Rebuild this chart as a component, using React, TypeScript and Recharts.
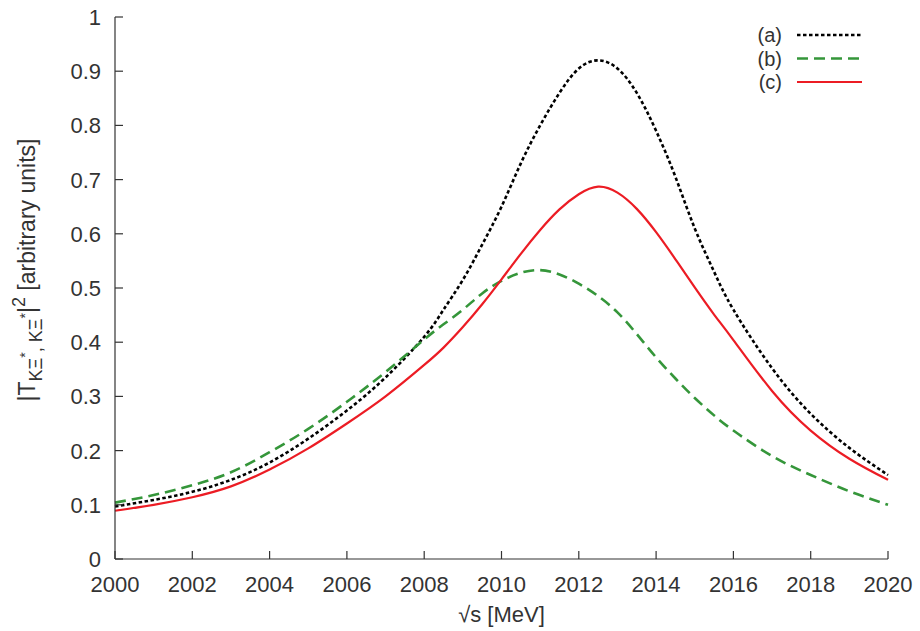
import React from 'react';
import { LineChart, Line, XAxis, YAxis, Legend } from 'recharts';

// sqrt(s) in MeV
const sqrtS = [
  2000, 2001, 2002, 2003, 2004, 2005, 2006, 2007,
  2008, 2008.5, 2009, 2009.5, 2010, 2010.5, 2011, 2011.5, 2012, 2012.5,
  2013, 2013.5, 2014, 2014.5, 2015, 2015.5, 2016,
  2017, 2018, 2019, 2020,
];
const curveA = [
  0.097, 0.109, 0.124, 0.146, 0.178, 0.222, 0.274, 0.335,
  0.41, 0.46, 0.515, 0.58, 0.65, 0.73, 0.8, 0.86, 0.905, 0.92,
  0.905, 0.86, 0.79, 0.705, 0.61, 0.53, 0.46,
  0.352, 0.268, 0.205, 0.155,
];
const curveB = [
  0.104, 0.118, 0.136, 0.16, 0.197, 0.24, 0.29, 0.345,
  0.405, 0.433, 0.46, 0.49, 0.513, 0.528, 0.533, 0.525, 0.508, 0.485,
  0.455, 0.415, 0.372, 0.333, 0.297, 0.265, 0.237,
  0.19, 0.155, 0.125, 0.1,
];
const curveC = [
  0.089, 0.1, 0.114, 0.134, 0.165, 0.204, 0.25, 0.3,
  0.358, 0.39, 0.428, 0.47, 0.516, 0.563, 0.607, 0.645, 0.673, 0.687,
  0.676, 0.646, 0.603, 0.553, 0.501, 0.451, 0.404,
  0.31, 0.237, 0.185, 0.146,
];

const xTicks = [2000, 2002, 2004, 2006, 2008, 2010, 2012, 2014, 2016, 2018, 2020];
const yTicks = [0, 0.1, 0.2, 0.3, 0.4, 0.5, 0.6, 0.7, 0.8, 0.9, 1];

const seriesNames = ['(a)', '(b)', '(c)'];

const data = sqrtS.map((s, i) => ({ s, a: curveA[i], b: curveB[i], c: curveC[i] }));

const FONT = '"Liberation Sans", Arial, Helvetica, sans-serif';
const AXIS = '#333';
const TICK_LEN = 8;

const styles: Record<string, { color: string; dash?: string; width: number }> = {
  a: { color: '#000000', dash: '3.5 2.5', width: 2.6 },
  b: { color: '#35963a', dash: '11 6', width: 2.6 },
  c: { color: '#ec1c24', width: 2.2 },
};

const fmtY = (v: number) => (v === 0 ? '0' : v === 1 ? '1' : v.toFixed(1));

const BottomTick = (props: any) => {
  const { x, y, payload } = props;
  return (
    <g>
      <line x1={x} y1={y} x2={x} y2={y - TICK_LEN} stroke={AXIS} strokeWidth={1.2} />
      <text x={x} y={y + 33} textAnchor="middle" fontSize={22} fill="#333" fontFamily={FONT}>
        {payload.value}
      </text>
    </g>
  );
};

const LeftTick = (props: any) => {
  const { x, y, payload } = props;
  return (
    <g>
      <line x1={x} y1={y} x2={x + TICK_LEN} y2={y} stroke={AXIS} strokeWidth={1.2} />
      <text x={x - 14} y={y + 8} textAnchor="end" fontSize={22} fill="#333" fontFamily={FONT}>
        {fmtY(payload.value)}
      </text>
    </g>
  );
};

const TopTick = (props: any) => {
  const { x, y } = props;
  return <line x1={x} y1={y} x2={x} y2={y + TICK_LEN} stroke={AXIS} strokeWidth={1.2} />;
};

const RightTick = (props: any) => {
  const { x, y } = props;
  return <line x1={x} y1={y} x2={x - TICK_LEN} y2={y} stroke={AXIS} strokeWidth={1.2} />;
};

const YLabel = (props: any) => {
  const vb = props.viewBox || {};
  const cy = vb.y + vb.height / 2 - 18;
  const cx = 35;
  return (
    <text
      x={cx}
      y={cy}
      transform={`rotate(-90 ${cx} ${cy})`}
      textAnchor="middle"
      fontSize={23}
      fill="#333"
      fontFamily={FONT}
    >
      <tspan>|T</tspan>
      <tspan fontSize={18} dy={7}>KΞ</tspan>
      <tspan fontSize={14} dy={-12}>*</tspan>
      <tspan fontSize={18} dy={12}>, KΞ</tspan>
      <tspan fontSize={14} dy={-12}>*</tspan>
      <tspan dy={5}>|</tspan>
      <tspan fontSize={18} dy={-10}>2</tspan>
      <tspan dy={10}> [arbitrary units]</tspan>
    </text>
  );
};

const LegendBox = (props: any) => {
  const items = (props.payload || []) as any[];
  return (
    <svg width={140} height={80}>
      {items.map((it, i) => {
        const st = styles[it.dataKey as string];
        const y = 10 + i * 23.5;
        return (
          <g key={i}>
            <text x={42} y={y + 7} textAnchor="end" fontSize={20} fill="#333" fontFamily={FONT}>
              {it.value}
            </text>
            <line x1={57} y1={y} x2={122} y2={y} stroke={st.color} strokeWidth={st.width} strokeDasharray={st.dash} />
          </g>
        );
      })}
    </svg>
  );
};

export default function App() {
  return (
    <div style={{ position: 'absolute', left: 0, top: 0, width: 920, height: 631, background: '#fff' }}>
      <LineChart width={920} height={631} data={data} margin={{ top: 17, right: 32, left: 0, bottom: 0 }}>
        <XAxis
          xAxisId="bottom"
          dataKey="s"
          type="number"
          domain={[2000, 2020]}
          ticks={xTicks}
          height={72}
          tickSize={0}
          tickMargin={0}
          tickLine={false}
          axisLine={{ stroke: AXIS, strokeWidth: 1.2 }}
          tick={<BottomTick />}
          interval={0}
          label={{ value: '√s [MeV]', position: 'insideBottom', offset: 9, fontSize: 22, fill: '#333', fontFamily: FONT }}
        />
        <XAxis
          xAxisId="top"
          orientation="top"
          dataKey="s"
          type="number"
          domain={[2000, 2020]}
          ticks={xTicks}
          height={0}
          tickSize={0}
          tickMargin={0}
          tickLine={false}
          axisLine={{ stroke: AXIS, strokeWidth: 1.2 }}
          tick={<TopTick />}
          interval={0}
        />
        <YAxis
          yAxisId="left"
          type="number"
          domain={[0, 1]}
          ticks={yTicks}
          width={115}
          tickSize={0}
          tickMargin={0}
          tickLine={false}
          axisLine={{ stroke: AXIS, strokeWidth: 1.2 }}
          tick={<LeftTick />}
          interval={0}
          label={<YLabel />}
        />
        <YAxis
          yAxisId="right"
          orientation="right"
          type="number"
          domain={[0, 1]}
          ticks={yTicks}
          width={0}
          tickSize={0}
          tickMargin={0}
          tickLine={false}
          axisLine={{ stroke: AXIS, strokeWidth: 1.2 }}
          tick={<RightTick />}
          interval={0}
        />
        <Legend
          layout="vertical"
          verticalAlign="middle"
          align="center"
          wrapperStyle={{ top: 25, left: 740, width: 140, height: 80 }}
          content={<LegendBox />}
        />
        {(['a', 'b', 'c'] as const).map((k, i) => (
          <Line
            key={k}
            xAxisId="bottom"
            yAxisId="left"
            type="natural"
            dataKey={k}
            name={seriesNames[i]}
            stroke={styles[k].color}
            strokeWidth={styles[k].width}
            strokeDasharray={styles[k].dash}
            dot={false}
            activeDot={false}
            isAnimationActive={false}
          />
        ))}
      </LineChart>
    </div>
  );
}
